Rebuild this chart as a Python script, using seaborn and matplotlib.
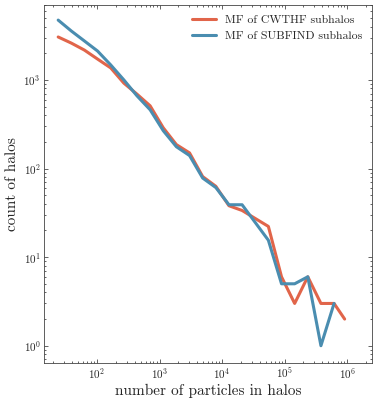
import numpy as np
import pandas as pd
import matplotlib
matplotlib.use("Agg")
import matplotlib.pyplot as plt
import seaborn as sns

# number of particles (bin centres)
n_particles = [24, 39, 63, 102, 166, 269, 437, 708, 1148, 1862, 3020, 4898,
               7943, 12882, 20893, 33884, 54954, 89125, 144544, 234423,
               380189, 616595, 910000]
cwthf_counts = [3050, 2600, 2170, 1720, 1365, 920, 690, 510, 288, 186, 150, 81,
                63, 38, 33.6, 27.3, 22.2, 6, 3, 6, 3, 3, 2]
subfind_counts = [4730, 3560, 2750, 2120, 1475, 1000, 660, 460, 267, 176, 140, 78,
                  61, 39, 39, 24.6, 15.5, 5, 5, 6, 1, 3]
labels = ["MF of CWTHF subhalos", "MF of SUBFIND subhalos"]
colors = ["#E1654A", "#4A8DB0"]

df = pd.concat([
    pd.DataFrame({"n": n_particles[:len(cwthf_counts)], "count": cwthf_counts, "set": labels[0]}),
    pd.DataFrame({"n": n_particles[:len(subfind_counts)], "count": subfind_counts, "set": labels[1]}),
])

sns.set_style("ticks")
plt.rcParams.update({
    "font.family": ["cmr10", "DejaVu Serif"],
    "mathtext.fontset": "cm",
    "axes.formatter.use_mathtext": True,
    "xtick.direction": "in", "ytick.direction": "in",
    "xtick.top": True, "ytick.right": True,
    "xtick.minor.visible": True, "ytick.minor.visible": True,
    "xtick.major.size": 3, "ytick.major.size": 3,
    "xtick.minor.size": 1.5, "ytick.minor.size": 1.5,
    "xtick.major.width": 0.5, "ytick.major.width": 0.5,
    "xtick.minor.width": 0.5, "ytick.minor.width": 0.5,
    "xtick.major.pad": 2.5, "ytick.major.pad": 2.5,
    "axes.linewidth": 0.6,
    "axes.edgecolor": "#444444",
})

fig = plt.figure(figsize=(3.77, 4.01), dpi=100)
ax = fig.add_axes([0.117, 0.095, 0.87, 0.8925])
sns.lineplot(data=df, x="n", y="count", hue="set", palette=colors, linewidth=2.2,
             ax=ax, sort=False)
ax.set_xscale("log")
ax.set_yscale("log")
ax.set_xlim(14.3, 2.5e6)
ax.set_ylim(0.64, 7000)
ax.set_xlabel("number of particles in halos", fontsize=11, labelpad=2)
ax.set_ylabel("count of halos", fontsize=11, labelpad=3)
ax.tick_params(labelsize=8)
ax.legend(title=None, frameon=False, fontsize=8.5, loc="upper right",
          handlelength=2.0, borderaxespad=0.4)
fig.savefig("out.png", dpi=100)
